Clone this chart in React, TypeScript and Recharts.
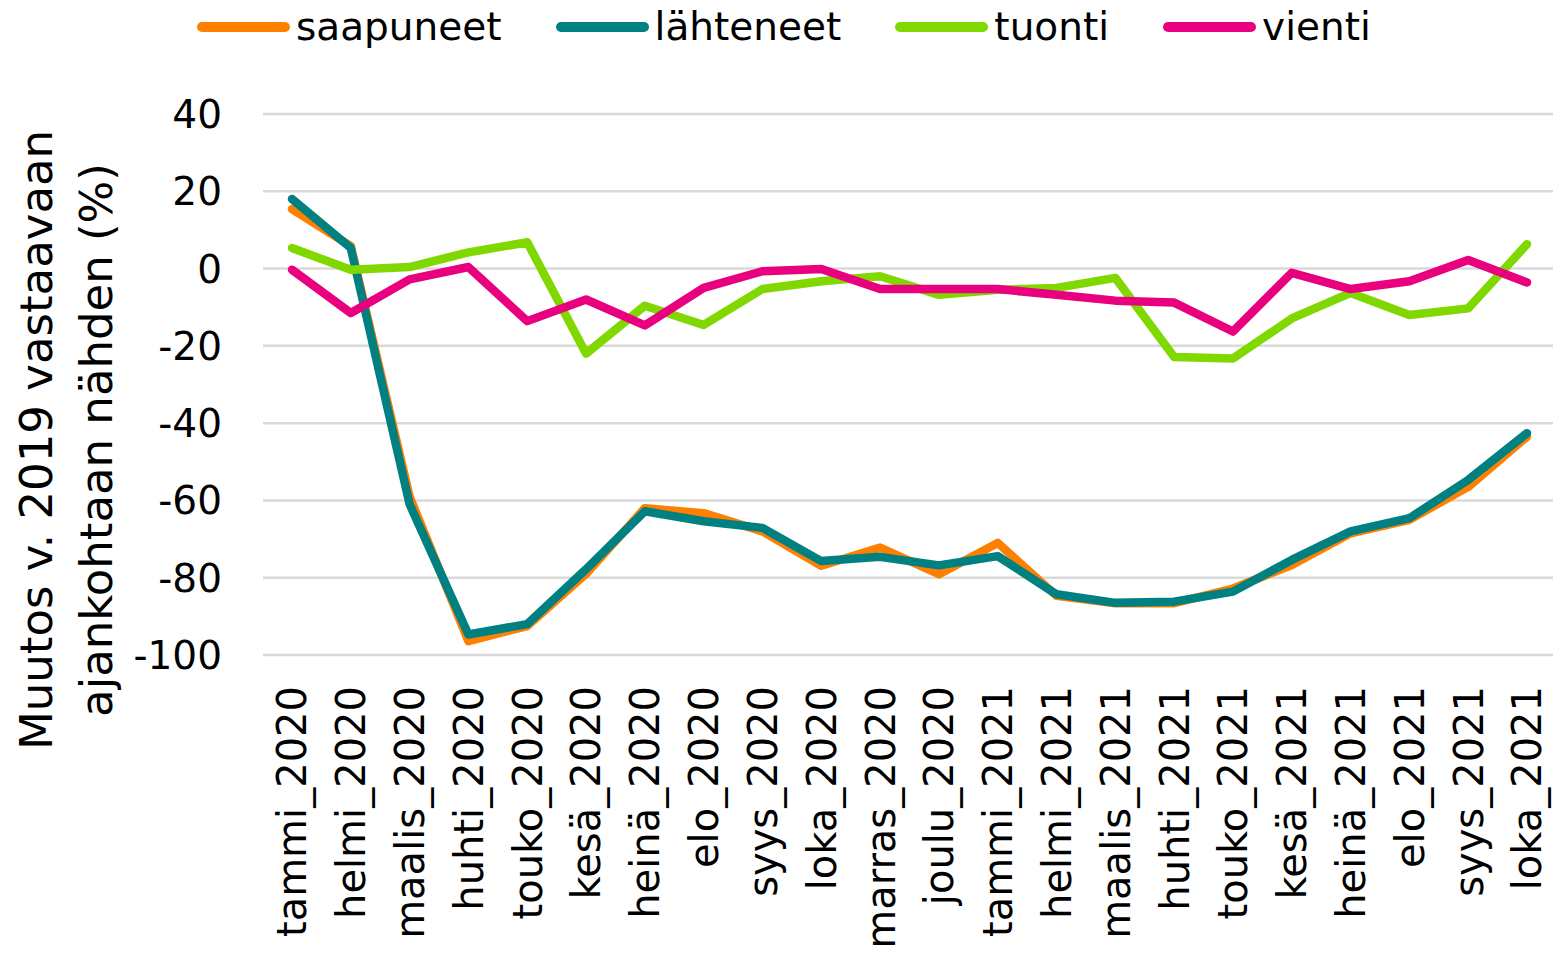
import React from 'react';
import { LineChart, Line, XAxis, YAxis, CartesianGrid } from 'recharts';

const months = [
  'tammi_2020', 'helmi_2020', 'maalis_2020', 'huhti_2020', 'touko_2020', 'kesä_2020',
  'heinä_2020', 'elo_2020', 'syys_2020', 'loka_2020', 'marras_2020', 'joulu_2020',
  'tammi_2021', 'helmi_2021', 'maalis_2021', 'huhti_2021', 'touko_2021', 'kesä_2021',
  'heinä_2021', 'elo_2021', 'syys_2021', 'loka_2021',
];

const saapuneet = [15.4, 5.8, -59, -96.4, -92.5, -79, -62, -63.3, -68, -76.9, -72.2, -79.1, -71, -84.7, -86.6, -86.6, -82.8, -76.7, -68.5, -65, -56.5, -43.5];
const lahteneet = [18, 5.3, -61, -94.7, -92, -77.8, -62.8, -65.4, -67.1, -75.7, -74.6, -76.8, -74.4, -84.3, -86.5, -86.2, -83.6, -75.4, -68, -64.6, -54.7, -42.6];
const tuonti = [5.3, -0.3, 0.4, 4.2, 6.8, -22, -9.6, -14.6, -5.3, -3.3, -2, -6.8, -5.5, -5, -2.4, -22.9, -23.3, -12.9, -6.3, -12, -10.3, 6.3];
const vienti = [-0.3, -11.5, -2.8, 0.4, -13.6, -8, -14.7, -5, -0.7, -0.1, -5.3, -5.3, -5.3, -6.8, -8.3, -8.8, -16.3, -1.1, -5.3, -3.3, 2.2, -3.6];

const yTicks = [-100, -80, -60, -40, -20, 0, 20, 40];

const series = [
  { key: 'saapuneet', name: 'saapuneet', color: '#FF8000' },
  { key: 'lahteneet', name: 'lähteneet', color: '#008080' },
  { key: 'tuonti', name: 'tuonti', color: '#80D800' },
  { key: 'vienti', name: 'vienti', color: '#E9007F' },
];

const data = months.map((m, i) => ({
  month: m,
  saapuneet: saapuneet[i],
  lahteneet: lahteneet[i],
  tuonti: tuonti[i],
  vienti: vienti[i],
}));

const FONT = '"DejaVu Sans", Verdana, sans-serif';

const XTick = (props: any) => {
  const { x, payload } = props;
  return (
    <g transform={`translate(${x},686)`}>
      <text transform="rotate(-90)" textAnchor="end" dy="0.36em" fontSize={40} fontFamily={FONT} fill="#000">
        {payload.value}
      </text>
    </g>
  );
};

const YTick = (props: any) => {
  const { y, payload } = props;
  return (
    <text x={222} y={y} dy="0.36em" textAnchor="end" fontSize={39} fontFamily={FONT} fill="#000">
      {payload.value}
    </text>
  );
};

const YTitle = () => (
  <text transform="translate(0,440) rotate(-90)" textAnchor="middle" fontSize={45} fontFamily={FONT} fill="#000">
    <tspan x={0} y={52}>Muutos v. 2019 vastaavaan</tspan>
    <tspan x={0} y={112}>ajankohtaan nähden (%)</tspan>
  </text>
);

const LegendBox = () => (
  <div
    style={{
      position: 'absolute', left: 197, top: 7, height: 40, display: 'flex', alignItems: 'center',
      fontFamily: FONT, fontSize: 39, lineHeight: '40px', color: '#000', whiteSpace: 'nowrap',
    }}
  >
    {series.map((s) => (
      <div key={s.key} style={{ display: 'flex', alignItems: 'center', marginRight: 54 }}>
        <span style={{ display: 'inline-block', width: 93, height: 10, borderRadius: 5, background: s.color, marginRight: 6 }} />
        <span>{s.name}</span>
      </div>
    ))}
  </div>
);

export default function App() {
  return (
    <div style={{ position: 'absolute', left: 0, top: 0, width: 1553, height: 953, background: '#fff' }}>
      <LegendBox />
      <LineChart width={1553} height={953} data={data} margin={{ top: 114, right: 0, bottom: 0, left: 0 }}>
        <CartesianGrid vertical={false} stroke="#D9D9D9" strokeWidth={2.5} />
        <XAxis
          dataKey="month"
          interval={0}
          height={298}
          tickLine={false}
          axisLine={false}
          padding={{ left: 29, right: 26 }}
          tick={<XTick />}
        />
        <YAxis
          width={263}
          domain={[-100, 40]}
          ticks={yTicks}
          tickLine={false}
          axisLine={false}
          tick={<YTick />}
          label={<YTitle />}
        />
        {series.map((s) => (
          <Line
            key={s.key}
            type="linear"
            dataKey={s.key}
            name={s.name}
            stroke={s.color}
            strokeWidth={8.5}
            strokeLinecap="round"
            strokeLinejoin="round"
            dot={false}
            activeDot={false}
            isAnimationActive={false}
          />
        ))}
      </LineChart>
    </div>
  );
}
